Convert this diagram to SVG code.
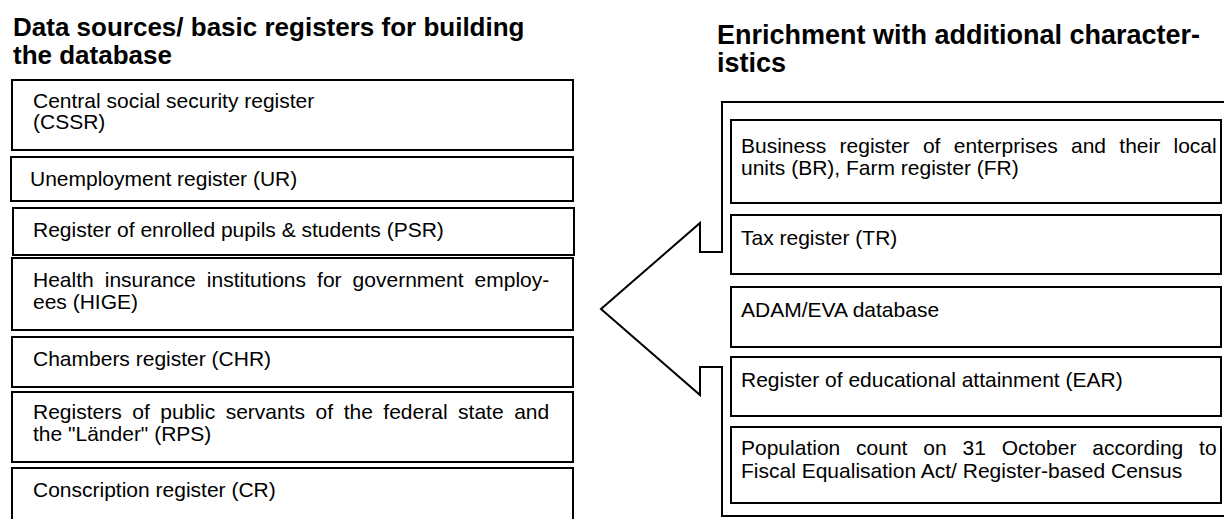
<svg xmlns="http://www.w3.org/2000/svg" width="1224" height="519" viewBox="0 0 1224 519">
<style>
.box{fill:#fff;stroke:#000;stroke-width:2}
.t{font-family:"Liberation Sans",Arial,sans-serif;font-size:21px;fill:#000}
.h{font-family:"Liberation Sans",Arial,sans-serif;font-size:26px;font-weight:bold;fill:#000}
</style>
<rect width="1224" height="519" fill="#fff"/>
<g id="title-left"><text class="h" x="13" y="36">Data sources/ basic registers for building</text><text class="h" x="13" y="64">the database</text></g>
<g id="title-right"><text class="h" x="717" y="44" style="font-size:27px">Enrichment with additional character-</text><text class="h" x="717" y="72" style="font-size:27px">istics</text></g>
<g id="connectors">
<path d="M1230 102 H722 V252 H700 V223 L601 309 L700 395 V367 H722 V516 H1230" fill="#fff" stroke="#000" stroke-width="2"/>
</g>
<g id="cssr"><rect class="box" x="12" y="80" width="561" height="70"/><text class="t" x="33" y="108">Central social security register</text><text class="t" x="33" y="129">(CSSR)</text></g>
<g id="ur"><rect class="box" x="11" y="157" width="562" height="44"/><text class="t" x="30" y="186">Unemployment register (UR)</text></g>
<g id="psr"><rect class="box" x="13" y="208" width="561" height="47"/><text class="t" x="33" y="237">Register of enrolled pupils &amp; students (PSR)</text></g>
<g id="hige"><rect class="box" x="12" y="258" width="561" height="72"/><text class="t" x="33" y="287" word-spacing="5.2">Health insurance institutions for government employ-</text><text class="t" x="33" y="309">ees (HIGE)</text></g>
<g id="chr"><rect class="box" x="12" y="337" width="561" height="50"/><text class="t" x="33" y="366">Chambers register (CHR)</text></g>
<g id="rps"><rect class="box" x="12" y="392" width="561" height="70"/><text class="t" x="33" y="419" word-spacing="4.7">Registers of public servants of the federal state and</text><text class="t" x="33" y="441">the "Länder" (RPS)</text></g>
<g id="cr"><rect class="box" x="12" y="468" width="561" height="70"/><text class="t" x="33" y="497">Conscription register (CR)</text></g>
<g id="br"><rect class="box" x="731" y="120" width="490" height="83"/><text class="t" x="741" y="153" word-spacing="7.5">Business register of enterprises and their local</text><text class="t" x="741" y="175">units (BR), Farm register (FR)</text></g>
<g id="tr"><rect class="box" x="731" y="215" width="490" height="59"/><text class="t" x="741" y="245">Tax register (TR)</text></g>
<g id="adam"><rect class="box" x="731" y="287" width="490" height="60"/><text class="t" x="741" y="317">ADAM/EVA database</text></g>
<g id="ear"><rect class="box" x="731" y="357" width="490" height="59"/><text class="t" x="741" y="387">Register of educational attainment (EAR)</text></g>
<g id="pop"><rect class="box" x="731" y="427" width="490" height="76"/><text class="t" x="741" y="455" word-spacing="10">Population count on 31 October according to</text><text class="t" x="741" y="478">Fiscal Equalisation Act/ Register-based Census</text></g>
</svg>
